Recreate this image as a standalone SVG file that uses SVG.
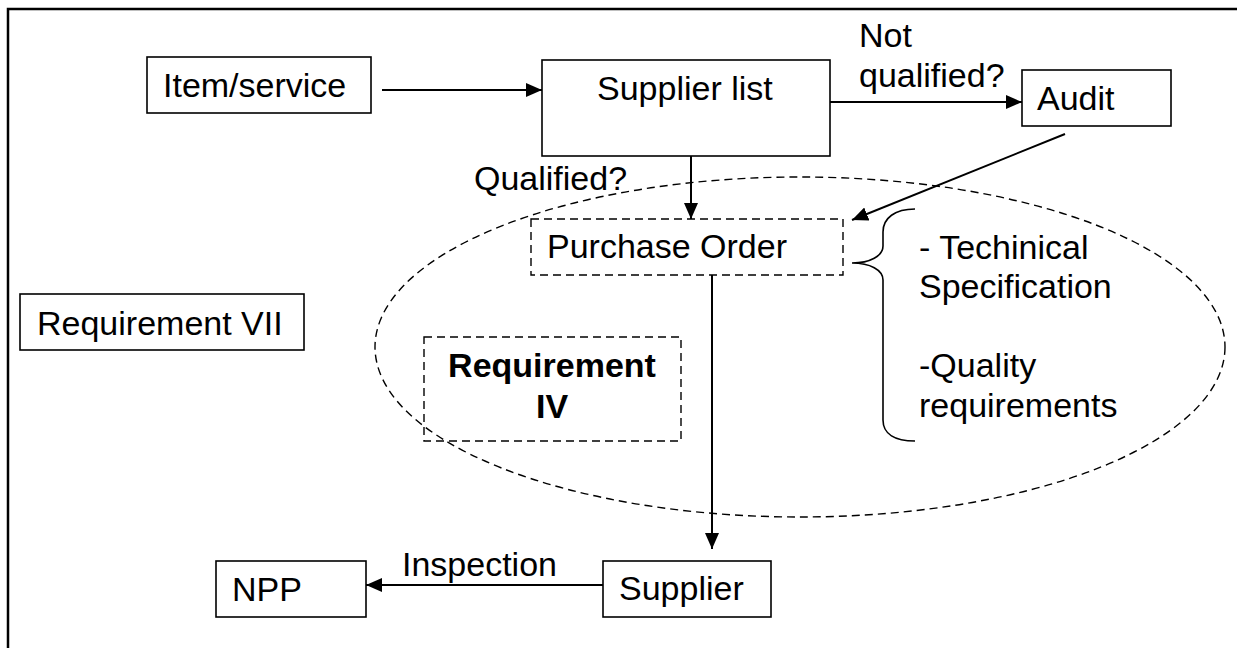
<svg xmlns="http://www.w3.org/2000/svg" width="1237" height="648" viewBox="0 0 1237 648">
  <style>
    .box { fill: #fff; stroke: #000; stroke-width: 1.6; }
    .dbox { fill: none; stroke: #000; stroke-width: 1.4; stroke-dasharray: 8 5; }
    .lbl { font-family: "Liberation Sans", Arial, sans-serif; font-size: 34px; fill: #000; }
    .bold { font-weight: bold; }
    .conn { fill: none; stroke: #000; stroke-width: 2; }
  </style>
  <defs>
    <marker id="arrow" viewBox="0 0 16 14" refX="16" refY="7" markerWidth="16" markerHeight="14" markerUnits="userSpaceOnUse" orient="auto">
      <path d="M0,0 L16,7 L0,14 z" fill="#000"/>
    </marker>
  </defs>

  <rect width="1237" height="648" fill="#fff"/>

  <!-- frame: top and left edges only -->
  <g id="frame" fill="none" stroke="#000" stroke-width="2.5">
    <path d="M8,648 L8,9 L1237,9"/>
  </g>

  <!-- scope of Requirement IV -->
  <g id="scope">
    <ellipse cx="800" cy="347" rx="425" ry="170" fill="none" stroke="#000" stroke-width="1.4" stroke-dasharray="8 5"/>
  </g>

  <g id="connectors">
    <line class="conn" x1="382" y1="90" x2="542" y2="90" marker-end="url(#arrow)"/>
    <line class="conn" x1="830" y1="102" x2="1022" y2="102" marker-end="url(#arrow)"/>
    <line class="conn" x1="691" y1="156" x2="691" y2="219" marker-end="url(#arrow)"/>
    <line class="conn" x1="1065" y1="134" x2="852" y2="220" marker-end="url(#arrow)"/>
    <line class="conn" x1="712" y1="275" x2="712" y2="549" marker-end="url(#arrow)"/>
    <line class="conn" x1="603" y1="585" x2="366" y2="585" marker-end="url(#arrow)"/>
    <text class="lbl" x="859" y="47">Not</text>
    <text class="lbl" x="859" y="87">qualified?</text>
    <text class="lbl" x="474" y="190">Qualified?</text>
    <text class="lbl" x="402" y="576">Inspection</text>
  </g>

  <g id="item-service">
    <rect class="box" x="147" y="57" width="224" height="56"/>
    <text class="lbl" x="163" y="97">Item/service</text>
  </g>

  <g id="supplier-list">
    <rect class="box" x="542" y="60" width="288" height="96"/>
    <text class="lbl" x="597" y="100">Supplier list</text>
  </g>

  <g id="audit">
    <rect class="box" x="1022" y="70" width="149" height="56"/>
    <text class="lbl" x="1037" y="110">Audit</text>
  </g>

  <g id="purchase-order">
    <rect class="dbox" x="531" y="219" width="312" height="56"/>
    <text class="lbl" x="547" y="258">Purchase Order</text>
  </g>

  <g id="po-contents">
    <path d="M915,209 C895,209 883,218 883,232 L883,246 C883,256 870,263 852,263 C870,263 883,270 883,280 L883,420 C883,434 895,441 915,441" fill="none" stroke="#000" stroke-width="1.6"/>
    <text class="lbl" x="919" y="259">- Techinical</text>
    <text class="lbl" x="919" y="298">Specification</text>
    <text class="lbl" x="919" y="377">-Quality</text>
    <text class="lbl" x="919" y="417">requirements</text>
  </g>

  <g id="requirement-vii">
    <rect class="box" x="20" y="294" width="284" height="56"/>
    <text class="lbl" x="37" y="335">Requirement VII</text>
  </g>

  <g id="requirement-iv">
    <rect class="dbox" x="424" y="337" width="257" height="104"/>
    <text class="lbl bold" x="552" y="377" text-anchor="middle">Requirement</text>
    <text class="lbl bold" x="552" y="418" text-anchor="middle">IV</text>
  </g>

  <g id="npp">
    <rect class="box" x="216" y="561" width="150" height="56"/>
    <text class="lbl" x="232" y="601">NPP</text>
  </g>

  <g id="supplier">
    <rect class="box" x="603" y="561" width="168" height="56"/>
    <text class="lbl" x="619" y="600">Supplier</text>
  </g>
</svg>
